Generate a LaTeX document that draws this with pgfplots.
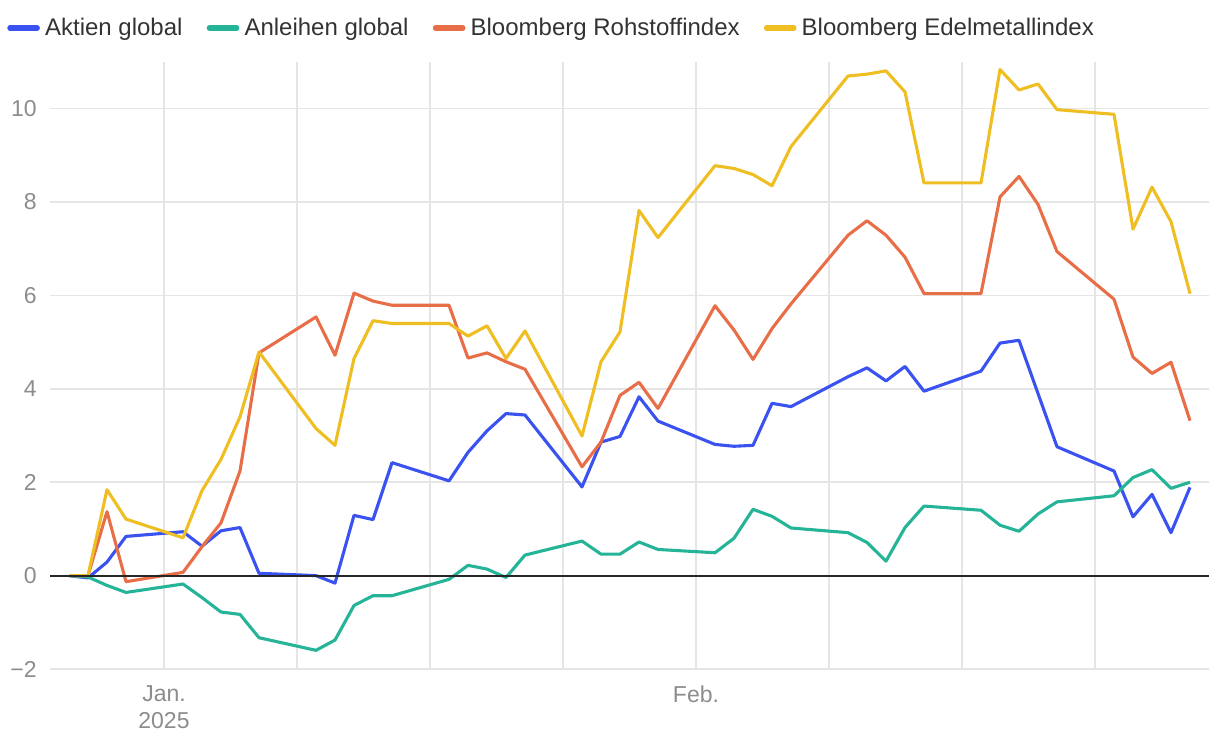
\documentclass[border=0pt]{standalone}
\usepackage{pgfplots}
\usepackage{pgfplotstable}
\pgfplotsset{compat=1.18}
\usepackage{fontspec}
\setmainfont{Liberation Sans}
\definecolor{cblue}{RGB}{58,82,240}
\definecolor{cgreen}{RGB}{38,180,152}
\definecolor{corange}{RGB}{232,110,72}
\definecolor{cyellow}{RGB}{238,190,34}
\definecolor{gridc}{RGB}{229,229,229}
\definecolor{tickc}{RGB}{140,140,140}
\definecolor{legc}{RGB}{51,51,51}

\pgfplotstableread{
d blue green orange yellow
-5 0 0 0 0
-4 -0.05 -0.03 0 0
-3 0.29 -0.21 1.37 1.84
-2 0.84 -0.36 -0.13 1.21
1 0.94 -0.18 0.07 0.81
2 0.63 -0.47 0.62 1.82
3 0.96 -0.78 1.13 2.49
4 1.03 -0.83 2.24 3.40
5 0.05 -1.33 4.77 4.79
8 0.00 -1.60 5.54 3.15
9 -0.16 -1.38 4.72 2.79
10 1.29 -0.64 6.05 4.65
11 1.20 -0.43 5.88 5.46
12 2.42 -0.43 5.79 5.40
15 2.03 -0.08 5.79 5.40
16 2.64 0.22 4.66 5.13
17 3.10 0.14 4.77 5.35
18 3.47 -0.04 4.58 4.65
19 3.44 0.44 4.42 5.24
22 1.90 0.74 2.33 2.99
23 2.86 0.46 2.86 4.58
24 2.98 0.46 3.86 5.22
25 3.83 0.72 4.14 7.82
26 3.31 0.56 3.58 7.24
29 2.81 0.49 5.78 8.78
30 2.77 0.80 5.26 8.72
31 2.79 1.42 4.63 8.59
32 3.69 1.27 5.29 8.35
33 3.62 1.02 5.82 9.19
36 4.26 0.92 7.29 10.70
37 4.45 0.71 7.60 10.74
38 4.17 0.31 7.29 10.81
39 4.48 1.03 6.82 10.36
40 3.95 1.49 6.04 8.41
43 4.38 1.40 6.04 8.41
44 4.98 1.08 8.11 10.84
45 5.04 0.95 8.55 10.40
46 3.90 1.32 7.95 10.53
47 2.76 1.58 6.94 9.98
50 2.24 1.71 5.92 9.88
51 1.26 2.10 4.68 7.42
52 1.74 2.27 4.33 8.32
53 0.92 1.87 4.57 7.58
54 1.89 2.00 3.32 6.04
}\datatable

\begin{document}
\begin{tikzpicture}
\useasboundingbox (-25pt,-38.5pt) rectangle (585pt,334.5pt);
\begin{axis}[
  at={(0,0)}, anchor=south west,
  scale only axis,
  width=579.5pt, height=303.5pt,
  xmin=-6, xmax=55,
  ymin=-2, ymax=11,
  axis line style={draw=none},
  major tick length=0pt,
  xtick={0,7,...,49},
  xticklabels={{Jan.\\2025},{},{},{},{Feb.},{},{},{}},
  xticklabel style={align=center, inner sep=0pt, yshift=-8pt, text=tickc,
    font=\fontsize{11.5}{13.5}\selectfont},
  ytick={-2,0,2,4,6,8,10},
  yticklabels={−2,0,2,4,6,8,10},
  yticklabel style={inner sep=0pt, xshift=-6.5pt, text=tickc,
    font=\fontsize{11.5}{13.5}\selectfont},
  xmajorgrids, ymajorgrids,
  grid style={gridc, line width=0.75pt},
  clip=false,
  legend columns=4,
  legend style={at={(-0.0372,1.056)}, anchor=west, draw=none, fill=none,
    inner sep=0pt, font=\fontsize{12}{14}\selectfont, text=legc,
    nodes={inner xsep=2.6pt},
    /tikz/every even column/.append style={column sep=9.5pt}},
  legend cell align=left,
  legend image code/.code={\draw[#1, line width=2.6pt, line cap=round] (1.3pt,0pt) -- (15pt,0pt);},
  every axis plot/.append style={line width=1.55pt, line join=round},
]
\addplot[cblue] table[x=d, y=blue] {\datatable};
\addlegendentry{Aktien global}
\addplot[cgreen] table[x=d, y=green] {\datatable};
\addlegendentry{Anleihen global}
\addplot[corange] table[x=d, y=orange] {\datatable};
\addlegendentry{Bloomberg Rohstoffindex}
\addplot[cyellow] table[x=d, y=yellow] {\datatable};
\addlegendentry{Bloomberg Edelmetallindex}
\addplot[black!85, line width=0.9pt, forget plot] coordinates {(-6,0) (55,0)};
\end{axis}
\end{tikzpicture}
\end{document}
